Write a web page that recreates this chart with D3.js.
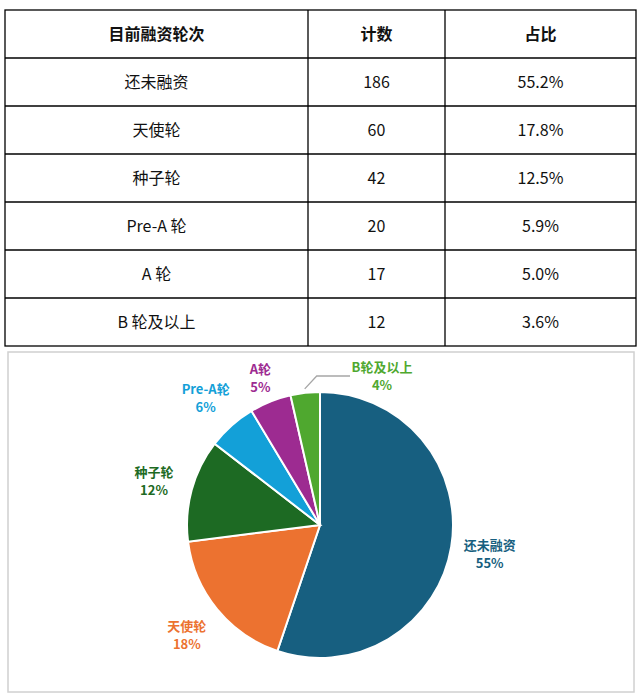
<!DOCTYPE html>
<html><head><meta charset="utf-8">
<style>
body{margin:0;background:#fff;font-family:"Noto Sans CJK SC","Noto Sans",sans-serif;}
</style></head>
<body>
<svg width="642" height="699"></svg>
<script src="https://d3js.org/d3.v7.min.js"></script>
<script>
var headers = ["目前融资轮次", "计数", "占比"];
var rounds = ["还未融资", "天使轮", "种子轮", "Pre-A 轮", "A 轮", "B 轮及以上"];
var pieNames = ["还未融资", "天使轮", "种子轮", "Pre-A轮", "A轮", "B轮及以上"];
var counts = [186, 60, 42, 20, 17, 12];
var shares = ["55.2%", "17.8%", "12.5%", "5.9%", "5.0%", "3.6%"];
var pieLabels = ["55%", "18%", "12%", "6%", "5%", "4%"];
var colors = ["#175f80", "#ec7230", "#1d6a23", "#13a0d8", "#9d2b91", "#4fa82f"];

var svg = d3.select("svg");

// table
var colX = [5, 308, 445, 636], tableTop = 10, rowH = 48;
var rows = [headers].concat(rounds.map(function(r, i) { return [r, counts[i], shares[i]]; }));
var yRow = d3.scaleLinear().domain([0, rows.length]).range([tableTop, tableTop + rowH * rows.length]);
var tbl = svg.append("g");
tbl.append("rect").attr("x", colX[0]).attr("y", yRow(0))
  .attr("width", colX[3] - colX[0]).attr("height", yRow(rows.length) - yRow(0))
  .attr("fill", "none").attr("stroke", "#000").attr("stroke-width", 1.3);
d3.range(1, rows.length).forEach(function(i) {
  tbl.append("line").attr("x1", colX[0]).attr("x2", colX[3]).attr("y1", yRow(i)).attr("y2", yRow(i))
    .attr("stroke", "#000").attr("stroke-width", 1.3);
});
[1, 2].forEach(function(c) {
  tbl.append("line").attr("x1", colX[c]).attr("x2", colX[c]).attr("y1", yRow(0)).attr("y2", yRow(rows.length))
    .attr("stroke", "#000").attr("stroke-width", 1.3);
});
rows.forEach(function(r, i) {
  r.forEach(function(v, c) {
    tbl.append("text").attr("x", (colX[c] + colX[c + 1]) / 2).attr("y", yRow(i) + rowH / 2 + 6)
      .attr("text-anchor", "middle").attr("font-size", 16)
      .attr("font-weight", i === 0 ? "bold" : "normal").attr("fill", "#111").text(v);
  });
});

// chart box
svg.append("rect").attr("x", 8).attr("y", 352).attr("width", 626).attr("height", 340)
  .attr("fill", "#fff").attr("stroke", "#d0d0d0").attr("stroke-width", 1.5);

var cx = 320, cy = 525, R = 133;
var pie = d3.pie().sort(null)(counts);
var arc = d3.arc().innerRadius(0).outerRadius(R);
var g = svg.append("g").attr("transform", "translate(" + cx + "," + cy + ")");
g.selectAll("path").data(pie).enter().append("path")
  .attr("d", arc).attr("fill", function(d, i) { return colors[i]; })
  .attr("stroke", "#fff").attr("stroke-width", 2);

var labelArc = d3.arc().innerRadius(172).outerRadius(172);
var smallArc = d3.arc().innerRadius(160).outerRadius(160);
pie.forEach(function(d, i) {
  var p = (i === 4 ? smallArc : labelArc).centroid(d);
  if (i === 5) {
    // last small slice: label pushed right with a leader line
    var e = d3.arc().innerRadius(R + 4).outerRadius(R + 4).centroid(d);
    p = [62, -150];
    g.append("polyline").attr("points", [e, [e[0] + 12, -149], [p[0] - 32, -149]].join(" "))
      .attr("fill", "none").attr("stroke", "#a6a6a6").attr("stroke-width", 1.3);
  }
  var t = g.append("text").attr("text-anchor", "middle").attr("font-size", 13)
    .attr("font-weight", "bold").attr("fill", colors[i]);
  t.append("tspan").attr("x", p[0]).attr("y", p[1] - 3).text(pieNames[i]);
  t.append("tspan").attr("x", p[0]).attr("y", p[1] + 15).text(pieLabels[i]);
});
</script>
</body></html>
